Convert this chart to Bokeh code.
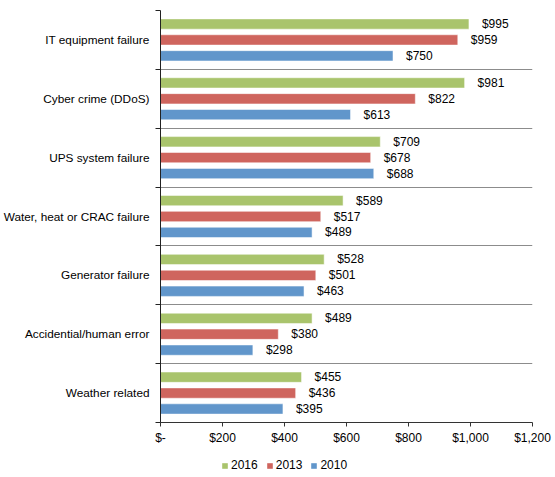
from bokeh.plotting import figure
from bokeh.layouts import column
from bokeh.models import Range1d, FixedTicker, ColumnDataSource, Legend, LegendItem
from bokeh.core.properties import value
from bokeh.embed import file_html
from bokeh.resources import INLINE

# Average cost of an outage by root cause (thousands of dollars)
categories = [
    "IT equipment failure",
    "Cyber crime (DDoS)",
    "UPS system failure",
    "Water, heat or CRAC failure",
    "Generator failure",
    "Accidential/human error",
    "Weather related",
]
cost_2016 = [995, 981, 709, 589, 528, 489, 455]
cost_2013 = [959, 822, 678, 517, 501, 380, 436]
cost_2010 = [750, 613, 688, 489, 463, 298, 395]
years = ["2016", "2013", "2010"]
x_ticks = [0, 200, 400, 600, 800, 1000, 1200]
x_tick_labels = ["$-", "$200", "$400", "$600", "$800", "$1,000", "$1,200"]

colors = {"2016": "#a9c46c", "2013": "#cf655e", "2010": "#6196cb"}
offsets = {"2016": 0.27, "2013": 0.0, "2010": -0.27}
series = {"2016": cost_2016, "2013": cost_2013, "2010": cost_2010}

FONT = "Liberation Sans"
n = len(categories)
centers = [n - i - 0.5 for i in range(n)]

p = figure(
    width=555, height=447,
    x_range=Range1d(0, 1200), y_range=Range1d(0, n),
    output_backend="svg", toolbar_location=None,
    min_border_left=160, min_border_right=23,
    min_border_top=10, min_border_bottom=24,
)
p.outline_line_color = None
p.background_fill_color = "white"
p.border_fill_color = "white"

for yr in years:
    ys = [c + offsets[yr] for c in centers]
    src = ColumnDataSource(dict(
        y=ys, right=series[yr],
        label=["$" + format(v, ",") for v in series[yr]],
    ))
    p.hbar(y="y", left=0, right="right", height=0.175, source=src,
           fill_color=colors[yr], line_color="white", line_alpha=0.5, line_width=1)
    p.text(x="right", y="y", text="label", source=src, x_offset=13,
           text_font=value(FONT), text_font_size="12px", text_color="black",
           text_baseline="middle", text_align="left")

# x axis
p.xaxis.ticker = FixedTicker(ticks=x_ticks)
p.xaxis.major_label_overrides = {t: l for t, l in zip(x_ticks, x_tick_labels)}
p.xaxis.major_label_text_font = FONT
p.xaxis.major_label_text_font_size = "12px"
p.xaxis.major_label_text_color = "black"
p.xaxis.major_tick_out = 4
p.xaxis.major_tick_in = 0
p.xaxis.minor_tick_line_color = None
p.xaxis.axis_line_color = "#333333"
p.xaxis.major_tick_line_color = "#333333"
p.xaxis.major_label_standoff = 4
p.xgrid.grid_line_color = None

# y axis: labels at category centres, tick marks at category boundaries
p.yaxis.ticker = FixedTicker(ticks=centers, minor_ticks=list(range(n + 1)))
p.yaxis.major_label_overrides = {c: cat for c, cat in zip(centers, categories)}
p.yaxis.major_label_text_font = FONT
p.yaxis.major_label_text_font_size = "11.8px"
p.yaxis.major_label_text_color = "black"
p.yaxis.major_tick_line_color = None
p.yaxis.major_tick_out = 0
p.yaxis.major_tick_in = 0
p.yaxis.minor_tick_out = 5
p.yaxis.minor_tick_in = 0
p.yaxis.minor_tick_line_color = "#222222"
p.yaxis.axis_line_color = "#222222"
p.yaxis.major_label_standoff = 6

p.ygrid.ticker = FixedTicker(ticks=list(range(n + 1)))
p.ygrid.grid_line_color = "#8c8c8c"
p.ygrid.grid_line_width = 1

# legend strip under the chart; its frame lines up with the chart frame
leg_fig = figure(
    width=555, height=30, x_range=Range1d(0, 1), y_range=Range1d(0, 1),
    x_axis_type=None, y_axis_type=None,
    output_backend="svg", toolbar_location=None,
    min_border=0,
)
leg_fig.outline_line_color = None
leg_fig.grid.visible = False
swatches = {}
for yr in years:
    # single off-range point: only the legend swatch is visible
    swatches[yr] = leg_fig.rect(x=[-5], y=[-5], width=0.1, height=0.1,
                                fill_color=colors[yr], line_color=None)
legend = Legend(
    items=[LegendItem(label=yr, renderers=[swatches[yr]]) for yr in years],
    orientation="horizontal", location=(61, 5),
    glyph_width=7, glyph_height=7, label_height=12, label_standoff=3,
    spacing=8, padding=0, margin=0,
    label_text_font=FONT, label_text_font_size="12px", label_text_color="black",
    border_line_color=None, background_fill_alpha=0,
)
leg_fig.add_layout(legend, "center")

layout = column(p, leg_fig, spacing=0)
open("out.html", "w").write(file_html(layout, INLINE))
